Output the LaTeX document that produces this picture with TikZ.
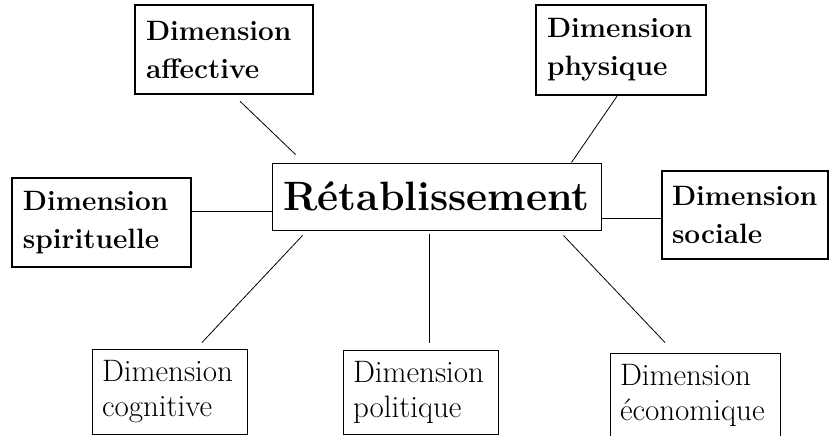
\documentclass[tikz,border=0pt]{standalone}
\usepackage{fontspec}
\usetikzlibrary{calc}
\tikzstyle{dimthick} = [draw, line width=2.5pt, align=left, inner xsep=11pt, inner ysep=0pt, font=\fontsize{28}{38}\selectfont\bfseries]
\tikzstyle{dimthin} = [draw, line width=1pt, align=left, inner xsep=10pt, inner ysep=0pt, font=\fontsize{31}{35}\selectfont]
\tikzstyle{link} = [line width=0.8pt]

\begin{document}
\begin{tikzpicture}[x=1pt,y=-1pt]
	\clip (0,0) rectangle (830,436);
	% centre
	\node[draw, line width=1pt, minimum width=329pt, minimum height=67pt, inner sep=0pt, font=\fontsize{41}{48}\selectfont\bfseries] (ret) at (436.5,196.5) {Rétablissement};
	% bold dimensions
	\node[dimthick, text width=156pt, minimum height=89pt] (aff) at (224,49.5) {Dimension\\affective};
	\node[dimthick, text width=148pt, minimum height=90pt] (phys) at (621,50) {Dimension\\physique};
	\node[dimthick, text width=157pt, minimum height=89pt] (spir) at (101.5,222.5) {Dimension\\spirituelle};
	\node[dimthick, inner xsep=10pt, text width=146pt, minimum height=88pt] (soc) at (745,215) {Dimension\\sociale};
	% plain dimensions
	\node[dimthin, text width=135pt, minimum height=85pt] (cog) at (169.5,391.5) {Dimension\\cognitive};
	\node[dimthin, text width=135pt, minimum height=84pt] (pol) at (420.5,392) {Dimension\\politique};
	\node[dimthin, text width=150pt, minimum height=85pt] (eco) at (695,395.5) {Dimension\\économique};
	% links
	\draw[link] ([shift={(16,6)}]aff.south) -- ([shift={(24,-8)}]ret.north west);
	\draw[link] ([xshift=-4pt]phys.south) -- ([xshift=-30pt]ret.north east);
	\draw[link] ([yshift=11.5pt]spir.east) -- ([yshift=11.5pt]spir.east -| ret.west);
	\draw[link] ([yshift=-3pt]soc.west) -- ([yshift=-3pt]soc.west -| ret.east);
	\draw[link] ([shift={(31,5)}]ret.south west) -- ([shift={(32.5,-6)}]cog.north);
	\draw[link] ([shift={(-7.5,3)}]ret.south) -- ([shift={(8.5,-7)}]pol.north);
	\draw[link] ([shift={(-38,5)}]ret.south east) -- ([shift={(-30,-10)}]eco.north);
\end{tikzpicture}
\end{document}
